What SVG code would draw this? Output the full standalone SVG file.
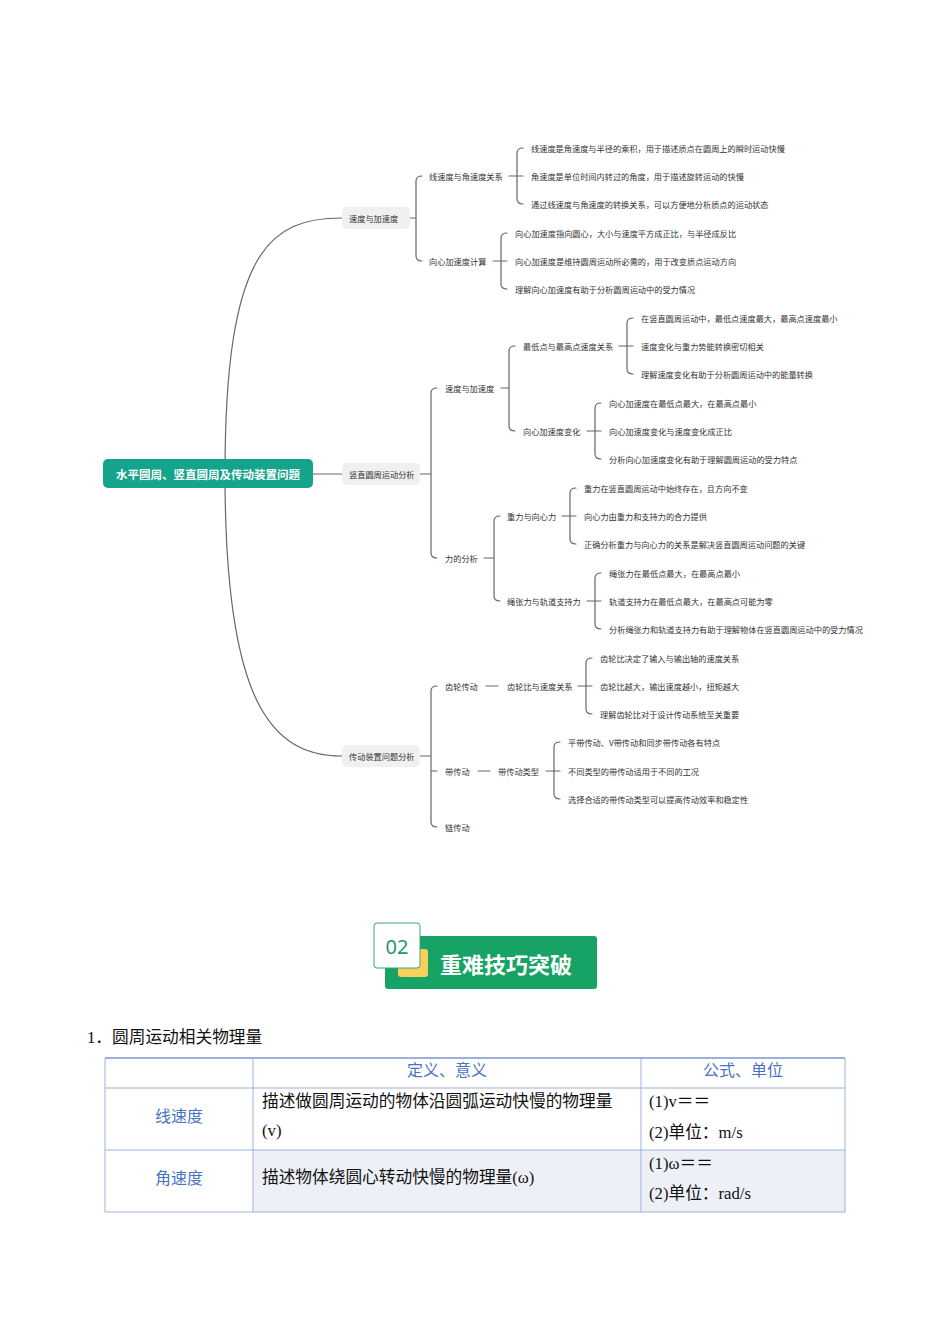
<svg xmlns="http://www.w3.org/2000/svg" width="950" height="1344" viewBox="0 0 950 1344">
<style>
.t{font-family:"Noto Sans CJK SC","Noto Sans",sans-serif;font-size:8.2px;fill:#333;dominant-baseline:central}
.c{fill:none;stroke:#666;stroke-width:1.2;stroke-linecap:round}
.l1{fill:#f0f0f0}
.s{font-family:"Liberation Serif","Noto Sans CJK SC",serif;font-size:16.7px;fill:#111}
.b{font-family:"Noto Sans CJK SC",sans-serif;font-size:16px;fill:#4a72c0}
.g{stroke:#9db0dc;stroke-width:1}
</style>
<rect width="950" height="1344" fill="#fff"/>
<g id="connectors" class="c">
<path d="M225 474 C225 250 270 218 342 218"/>
<path d="M225 474 C225 700 270 756 342 756"/>
<path d="M313 474 H342"/>
<path d="M410 218 H416 M422 176 Q416 176 416 181 V256 Q416 261 422 261"/>
<path d="M509 176 H523 M523 148 Q517 148 517 153 V199 Q517 204 523 204"/>
<path d="M493 261 H507 M507 233 Q501 233 501 238 V284 Q501 289 507 289"/>
<path d="M420 474 H431 M437 388 Q431 388 431 393 V553 Q431 558 437 558"/>
<path d="M501 388 H509 M515 346 Q509 346 509 351 V426 Q509 431 515 431"/>
<path d="M619 346 H633 M633 318 Q627 318 627 323 V369 Q627 374 633 374"/>
<path d="M587 431 H601 M601 403 Q595 403 595 408 V454 Q595 459 601 459"/>
<path d="M484 558 H494 M500 516 Q494 516 494 521 V596 Q494 601 500 601"/>
<path d="M562 516 H576 M576 488 Q570 488 570 493 V539 Q570 544 576 544"/>
<path d="M587 601 H601 M601 573 Q595 573 595 578 V624 Q595 629 601 629"/>
<path d="M420 756 H431 M437 686 Q431 686 431 691 V822 Q431 827 437 827 M431 771 H437"/>
<path d="M486 686 H498"/>
<path d="M578 686 H592 M592 658 Q586 658 586 663 V709 Q586 714 592 714"/>
<path d="M478 771 H490"/>
<path d="M546 771 H560 M560 742 Q554 742 554 747 V794 Q554 799 560 799"/>
</g>
<g id="root"><rect x="103" y="459" width="210" height="29" rx="5" fill="#14a38b"/><text x="208" y="473.5" text-anchor="middle" font-family="Noto Sans CJK SC,sans-serif" font-size="11.5" font-weight="bold" fill="#fff" dominant-baseline="central">水平圆周、竖直圆周及传动装置问题</text></g>
<g id="n-a"><rect class="l1" x="342" y="207" width="68" height="22" rx="5"/><text class="t" x="349" y="217.5">速度与加速度</text></g>
<g id="n-b"><rect class="l1" x="342" y="463" width="78" height="22" rx="5"/><text class="t" x="349" y="473.5">竖直圆周运动分析</text></g>
<g id="n-c"><rect class="l1" x="342" y="745" width="78" height="22" rx="5"/><text class="t" x="349" y="755.5">传动装置问题分析</text></g>
<g id="leaves" transform="translate(0,-0.5)">
<text class="t" x="429" y="176">线速度与角速度关系</text>
<text class="t" x="429" y="261">向心加速度计算</text>
<text class="t" x="531" y="148">线速度是角速度与半径的乘积，用于描述质点在圆周上的瞬时运动快慢</text>
<text class="t" x="531" y="176">角速度是单位时间内转过的角度，用于描述旋转运动的快慢</text>
<text class="t" x="531" y="204">通过线速度与角速度的转换关系，可以方便地分析质点的运动状态</text>
<text class="t" x="515" y="233">向心加速度指向圆心，大小与速度平方成正比，与半径成反比</text>
<text class="t" x="515" y="261">向心加速度是维持圆周运动所必需的，用于改变质点运动方向</text>
<text class="t" x="515" y="289">理解向心加速度有助于分析圆周运动中的受力情况</text>
<text class="t" x="445" y="388">速度与加速度</text>
<text class="t" x="445" y="558">力的分析</text>
<text class="t" x="523" y="346">最低点与最高点速度关系</text>
<text class="t" x="523" y="431">向心加速度变化</text>
<text class="t" x="641" y="318">在竖直圆周运动中，最低点速度最大，最高点速度最小</text>
<text class="t" x="641" y="346">速度变化与重力势能转换密切相关</text>
<text class="t" x="641" y="374">理解速度变化有助于分析圆周运动中的能量转换</text>
<text class="t" x="609" y="403">向心加速度在最低点最大，在最高点最小</text>
<text class="t" x="609" y="431">向心加速度变化与速度变化成正比</text>
<text class="t" x="609" y="459">分析向心加速度变化有助于理解圆周运动的受力特点</text>
<text class="t" x="507" y="516">重力与向心力</text>
<text class="t" x="507" y="601">绳张力与轨道支持力</text>
<text class="t" x="584" y="488">重力在竖直圆周运动中始终存在，且方向不变</text>
<text class="t" x="584" y="516">向心力由重力和支持力的合力提供</text>
<text class="t" x="584" y="544">正确分析重力与向心力的关系是解决竖直圆周运动问题的关键</text>
<text class="t" x="609" y="573">绳张力在最低点最大，在最高点最小</text>
<text class="t" x="609" y="601">轨道支持力在最低点最大，在最高点可能为零</text>
<text class="t" x="609" y="629">分析绳张力和轨道支持力有助于理解物体在竖直圆周运动中的受力情况</text>
<text class="t" x="445" y="686">齿轮传动</text>
<text class="t" x="445" y="771">带传动</text>
<text class="t" x="445" y="827">链传动</text>
<text class="t" x="507" y="686">齿轮比与速度关系</text>
<text class="t" x="600" y="658">齿轮比决定了输入与输出轴的速度关系</text>
<text class="t" x="600" y="686">齿轮比越大，输出速度越小，扭矩越大</text>
<text class="t" x="600" y="714">理解齿轮比对于设计传动系统至关重要</text>
<text class="t" x="498" y="771">带传动类型</text>
<text class="t" x="568" y="742">平带传动、V带传动和同步带传动各有特点</text>
<text class="t" x="568" y="771">不同类型的带传动适用于不同的工况</text>
<text class="t" x="568" y="799">选择合适的带传动类型可以提高传动效率和稳定性</text>
</g>
<g id="badge">
<rect x="385" y="936" width="212" height="53" rx="3" fill="#17a266"/>
<rect x="398" y="949" width="30" height="28" rx="3" fill="#f7cf5a"/>
<rect x="374" y="923" width="46" height="45" rx="3" fill="#fff" stroke="#3aa57a" stroke-width="1"/>
<text x="397" y="954" text-anchor="middle" font-family="Noto Sans,sans-serif" font-size="20" fill="#1a9a6a">02</text>
<text x="440" y="973" font-family="Noto Sans CJK SC,sans-serif" font-size="22" font-weight="bold" fill="#fff">重难技巧突破</text>
</g>
<text class="s" x="87" y="1043">1．圆周运动相关物理量</text>
<g id="table">
<rect x="253" y="1150" width="592" height="62" fill="#eef0f8"/>
<rect x="105" y="1150" width="148" height="62" fill="#fff"/>
<g class="g">
<line x1="105" y1="1058" x2="845" y2="1058" stroke-width="2"/>
<line x1="105" y1="1088" x2="845" y2="1088"/>
<line x1="105" y1="1150" x2="845" y2="1150"/>
<line x1="105" y1="1212" x2="845" y2="1212"/>
<line x1="105" y1="1058" x2="105" y2="1212"/>
<line x1="253" y1="1058" x2="253" y2="1212"/>
<line x1="641" y1="1058" x2="641" y2="1212"/>
<line x1="845" y1="1058" x2="845" y2="1212"/>
</g>
<text class="b" x="447" y="1076" text-anchor="middle">定义、意义</text>
<text class="b" x="743" y="1076" text-anchor="middle">公式、单位</text>
<text class="b" x="179" y="1122" text-anchor="middle">线速度</text>
<text class="b" x="179" y="1184" text-anchor="middle">角速度</text>
<text class="s" x="262" y="1107">描述做圆周运动的物体沿圆弧运动快慢的物理量</text>
<text class="s" x="262" y="1136">(v)</text>
<text class="s" x="649" y="1107">(1)v＝＝</text>
<text class="s" x="649" y="1138">(2)单位：m/s</text>
<text class="s" x="262" y="1183">描述物体绕圆心转动快慢的物理量(ω)</text>
<text class="s" x="649" y="1169">(1)ω＝＝</text>
<text class="s" x="649" y="1199">(2)单位：rad/s</text>
</g>
</svg>
